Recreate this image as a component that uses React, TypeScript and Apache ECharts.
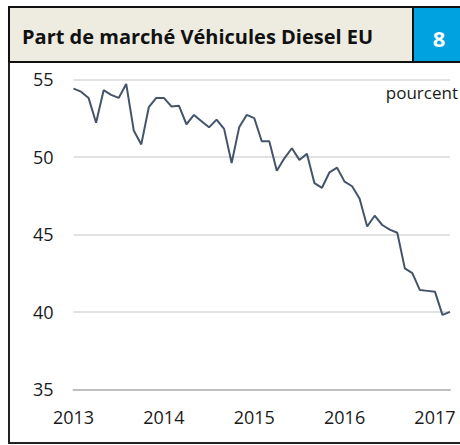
import React, { useEffect, useRef } from "react";
import * as echarts from "echarts";

const TITLE = "Part de marché Véhicules Diesel EU";
const BADGE = "8";
const UNIT = "pourcent";

const years = [2013, 2014, 2015, 2016, 2017];
const monthsInLastYear = 3;

// Diesel market share, monthly Jan 2013 .. Mar 2017 (percent)
const share2013 = [54.4, 54.2, 53.8, 52.2, 54.3, 54.0, 53.8, 54.7, 51.7, 50.8, 53.2, 53.8];
const share2014 = [53.8, 53.25, 53.3, 52.1, 52.7, 52.3, 51.9, 52.4, 51.8, 49.6, 51.9, 52.7];
const share2015 = [52.5, 51.0, 51.0, 49.1, 49.9, 50.55, 49.8, 50.2, 48.3, 48.0, 49.0, 49.3];
const share2016 = [48.4, 48.1, 47.3, 45.5, 46.2, 45.6, 45.3, 45.1, 42.8, 42.5, 41.4, 41.35];
const share2017 = [41.3, 39.8, 40.0];

const yTicks = { min: 35, max: 55, interval: 5 };

const categories: string[] = [];
years.forEach((y, yi) => {
  const n = yi === years.length - 1 ? monthsInLastYear : 12;
  for (let m = 1; m <= n; m++) categories.push(`${y}-${String(m).padStart(2, "0")}`);
});
const values = [...share2013, ...share2014, ...share2015, ...share2016, ...share2017];

const FONT = "'Open Sans', 'Liberation Sans', sans-serif";

export default function App() {
  const ref = useRef<HTMLDivElement>(null);
  useEffect(() => {
    if (!ref.current) return;
    const chart = echarts.init(ref.current, undefined, { renderer: "svg" });
    chart.setOption({
      animation: false,
      backgroundColor: "#ffffff",
      grid: { left: 73.5, right: 10, top: 79.3, bottom: 55.7, containLabel: false },
      xAxis: {
        type: "category",
        data: categories,
        boundaryGap: false,
        axisLine: { show: true, lineStyle: { color: "#bfbfbf", width: 2 } },
        axisTick: { show: false },
        axisLabel: {
          interval: (i: number) => i % 12 === 0,
          formatter: (v: string) => v.slice(0, 4),
          color: "#1a1a1a",
          fontFamily: FONT,
          fontSize: 18,
          margin: 19,
        },
        splitLine: { show: false },
      },
      yAxis: {
        type: "value",
        min: yTicks.min,
        max: yTicks.max,
        interval: yTicks.interval,
        axisLine: { show: false },
        axisTick: { show: false },
        axisLabel: { color: "#1a1a1a", fontFamily: FONT, fontSize: 18, margin: 20 },
        splitLine: { show: true, lineStyle: { color: "#d9d9d9", width: 1.5 } },
      },
      series: [
        {
          type: "line",
          data: values,
          symbol: "none",
          lineStyle: { color: "#44546a", width: 2 },
        },
      ],
      graphic: [
        {
          type: "rect",
          shape: { x: 9, y: 7, width: 404, height: 55 },
          style: { fill: "#eeece1", stroke: "#111111", lineWidth: 2 },
        },
        {
          type: "rect",
          shape: { x: 413, y: 7, width: 49, height: 55 },
          style: { fill: "#00a3e0", stroke: "#111111", lineWidth: 2 },
        },
        {
          type: "text",
          x: 22,
          y: 36,
          style: {
            text: TITLE,
            font: `bold 20px ${FONT}`,
            fill: "#111111",
            verticalAlign: "middle",
            align: "left",
          },
        },
        {
          type: "text",
          x: 439,
          y: 38,
          style: {
            text: BADGE,
            font: `bold 22px ${FONT}`,
            fill: "#ffffff",
            verticalAlign: "middle",
            align: "center",
          },
        },
        {
          type: "polyline",
          shape: { points: [[9, 62], [9, 443], [461, 443]] },
          style: { stroke: "#222222", lineWidth: 2, fill: "none" },
        },
        {
          type: "text",
          x: 458,
          y: 92,
          style: {
            text: UNIT,
            font: `17px ${FONT}`,
            fill: "#1a1a1a",
            verticalAlign: "middle",
            align: "right",
          },
        },
      ],
    });
    return () => chart.dispose();
  }, []);
  return (
    <div
      ref={ref}
      style={{ position: "fixed", left: 0, top: 0, width: 460, height: 445 }}
    />
  );
}
